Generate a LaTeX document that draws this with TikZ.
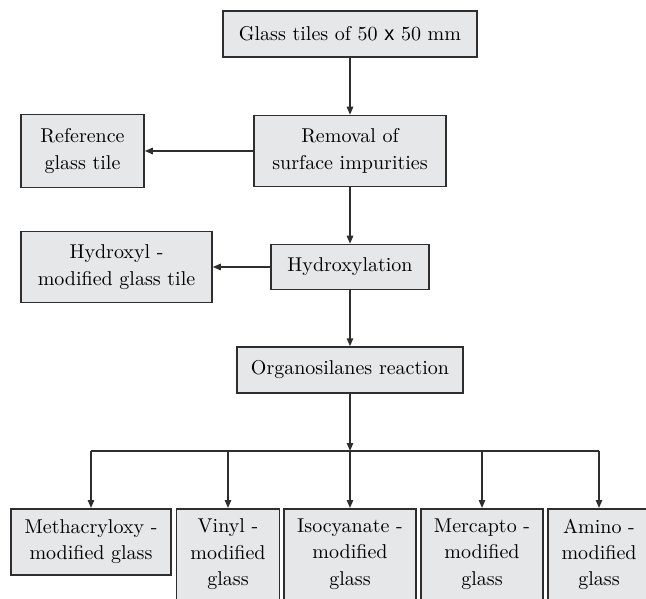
\documentclass[tikz,border=0pt]{standalone}
\usepackage{fontspec}
\setsansfont{Liberation Sans}
\usepackage{tikz}
\usetikzlibrary{arrows.meta}

\definecolor{boxgray}{HTML}{E6E7E9}
\definecolor{boxline}{HTML}{2E2E2E}

\begin{document}
\begin{tikzpicture}[x=0.5pt, y=-0.5pt, line width=0.75pt,
    box/.style={draw=boxline, fill=boxgray, align=center, inner sep=0pt,
      font=\fontsize{10}{13.2}\selectfont},
    leaf/.style={box, anchor=north, inner ysep=5pt, minimum height=33pt},
    flow/.style={draw=boxline, -{Triangle[length=4pt, width=3.2pt]}}]
    \clip (0, 0) rectangle (646, 598);

    % draw main column
    \node[box, minimum width=127pt, minimum height=23pt] (glass) at (350, 34)
      {Glass tiles of 50 {\sffamily x} 50 mm};
    \node[box, minimum width=96pt, minimum height=35.5pt] (removal) at (350, 151)
      {Removal of\\surface impurities};
    \node[box, minimum width=79pt, minimum height=22.5pt] (hydrox) at (350, 267)
      {Hydroxylation};
    \node[box, minimum width=113pt, minimum height=23pt] (organo) at (350, 370)
      {Organosilanes reaction};

    % draw side boxes
    \node[box, minimum width=61.5pt, minimum height=36.5pt] (reftile) at (82.5, 151)
      {Reference\\glass tile};
    \node[box, minimum width=95.5pt, minimum height=35.5pt] (ohtile) at (116.5, 267)
      {Hydroxyl -\\modified glass tile};

    % draw modified glass boxes
    \node[leaf, minimum width=80pt] (metha) at (91, 508) {Methacryloxy -\\modified glass};
    \node[leaf, minimum width=51.5pt] (vinyl) at (228, 508) {Vinyl -\\modified\\glass};
    \node[leaf, minimum width=66pt] (iso) at (350, 508) {Isocyanate -\\modified\\glass};
    \node[leaf, minimum width=61pt] (merc) at (482, 508) {Mercapto -\\modified\\glass};
    \node[leaf, minimum width=51pt] (amino) at (599, 508) {Amino -\\modified\\glass};

    % draw arrows
    \draw[flow] (glass) -- (removal);
    \draw[flow] (removal) -- (hydrox);
    \draw[flow] (hydrox) -- (organo);
    \draw[flow] (removal.west) -- (reftile.east);
    \draw[flow] (hydrox.west) -- (ohtile.east);

    % draw branch line
    \coordinate (split) at (350, 451);
    \draw[flow] (organo.south) -- (split);
    \draw[draw=boxline] (metha.north |- split) -- (amino.north |- split);
    \foreach \leafname in {metha, vinyl, iso, merc, amino}
      \draw[flow] (\leafname.north |- split) -- (\leafname.north);

\end{tikzpicture}
\end{document}
